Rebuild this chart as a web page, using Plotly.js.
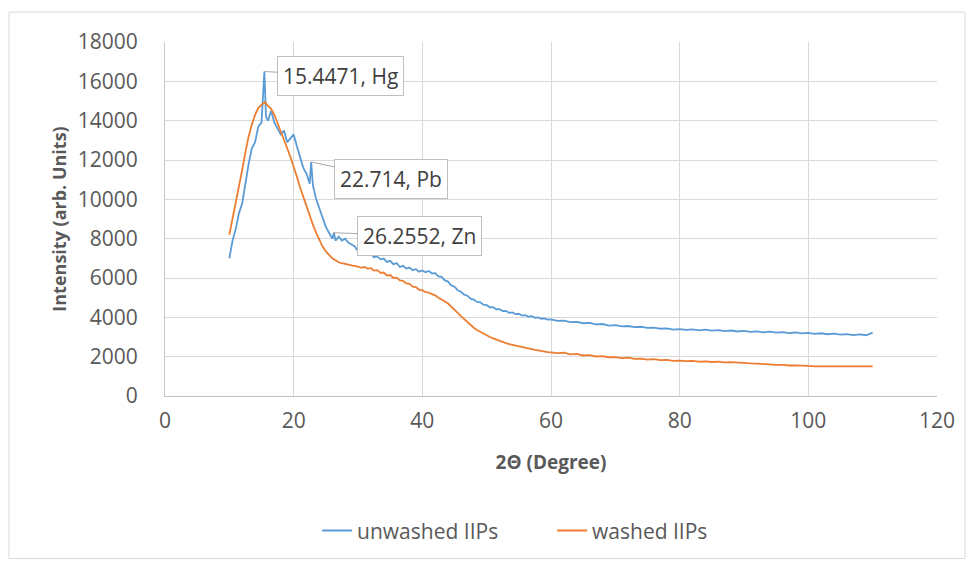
<!DOCTYPE html>
<html>
<head>
<meta charset="utf-8">
<script src="https://cdn.plot.ly/plotly-3.0.1.min.js"></script>
<style>html,body{margin:0;padding:0;background:#fff;}#chart{width:973px;height:562px;}</style>
</head>
<body>
<div id="chart"></div>
<script>
// ---- Data ----
var seriesNames = ['unwashed IIPs', 'washed IIPs'];

var xUnwashed = [10,10.5,11,11.5,12,12.5,13,13.5,14,14.5,15,15.4471,15.7,16,16.5,17,17.5,18,18.5,19,19.5,20,20.5,21,21.5,22,22.5,22.714,23,23.5,24,24.5,25,25.5,26,26.2552,26.5,27,27.5,28,28.5,29,29.5,30,
30.5,31,31.5,32,32.5,33,33.5,34,34.5,35,35.5,36,36.5,37,37.5,38,38.5,39,39.5,40,40.5,41,41.5,42,42.5,43,43.5,44,44.5,45,45.5,46,46.5,47,47.5,48,48.5,49,49.5,50,50.5,51,51.5,52,52.5,53,53.5,54,54.5,55,55.5,56,56.5,57,57.5,58,58.5,59,59.5,60,
61,62,63,64,65,66,67,68,69,70,71,72,73,74,75,76,77,78,79,80,81,82,83,84,85,86,87,88,89,90,91,92,93,94,95,96,97,98,99,100,101,102,103,104,105,106,107,108,109,110];

var yUnwashed = [7000,7900,8500,9300,9800,10900,11800,12600,12900,13700,13900,16500,14200,14000,14500,13900,13600,13300,13500,12900,13100,13300,12700,12100,11600,11300,10800,11900,10700,10000,9500,9100,8600,8300,8000,8300,7900,8100,7900,8000,7800,7700,7600,7350,
7250,7320,7180,7220,7060,7100,6950,6990,6820,6870,
6700,6760,6560,6620,6480,6530,6400,6450,6320,6380,
6290,6360,6230,6250,6080,6060,5880,5820,5620,5560,
5380,5300,5150,5100,4950,4900,4780,4760,4640,4620,
4510,4520,4410,4420,4320,4330,4230,4250,4160,4180,
4090,4110,4030,4060,3980,4000,3930,3950,3880,3900,
3820,3830,3760,3770,3700,3720,3640,3660,3580,3600,
3540,3560,3500,3520,3460,3480,3420,3440,3380,3400,
3360,3390,3340,3370,3320,3350,3300,3330,3280,3310,
3260,3290,3240,3270,3220,3250,3200,3230,3180,3210,
3160,3190,3140,3170,3120,3150,3100,3130,3090,3220];

var xWashed = [10,10.5,11,11.5,12,12.5,13,13.5,14,14.5,15,15.5,16,16.5,17,17.5,18,18.5,19,19.5,20,20.5,21,21.5,22,22.5,23,23.5,24,24.5,25,25.5,26,26.5,27,27.5,28,28.5,29,29.5,30,
30.5,31,31.5,32,32.5,33,33.5,34,34.5,35,35.5,36,36.5,37,37.5,38,38.5,39,39.5,40,40.5,41,41.5,42,42.5,43,43.5,44,44.5,45,45.5,46,46.5,47,47.5,48,48.5,49,49.5,50,50.5,51,51.5,52,52.5,53,53.5,54,54.5,55,55.5,56,56.5,57,57.5,58,58.5,59,59.5,60,
61,62,63,64,65,66,67,68,69,70,71,72,73,74,75,76,77,78,79,80,81,82,83,84,85,86,87,88,89,90,91,92,93,94,95,96,97,98,99,100,101,102,103,104,105,106,107,108,109,110];

var yWashed = [8200,9000,9800,10700,11500,12400,13200,13800,14300,14650,14800,14950,14750,14600,14300,13900,13500,13050,12600,12150,11700,11150,10600,10100,9600,9150,8700,8300,7950,7600,7350,7150,7000,6900,6800,6750,6700,6680,6640,6620,6580,
6520,6560,6480,6500,6380,6400,6260,6280,6130,6150,
6000,6020,5880,5860,5720,5700,5560,5540,5400,5380,
5280,5260,5180,5120,5000,4920,4800,4700,4560,4400,
4230,4060,3900,3740,3600,3470,3360,3260,3170,3090,
3000,2930,2860,2800,2740,2690,2640,2600,2550,2520,
2470,2450,2400,2380,2340,2320,2280,2270,2230,2220,
2180,2200,2120,2140,2060,2080,2010,2030,1970,1980,
1930,1950,1890,1900,1850,1870,1820,1840,1790,1800,
1770,1790,1750,1760,1730,1750,1710,1720,1690,1680,
1660,1650,1620,1610,1580,1580,1550,1560,1530,1530,
1510,1510,1500,1490,1490,1500,1500,1490,1500,1510];

var peakLabels = ['15.4471, Hg', '22.714, Pb', '26.2552, Zn'];
var peakX = [15.4471, 22.714, 26.2552];
var peakY = [16500, 11900, 8300];

var xTitle = '2Θ (Degree)';
var yTitle = 'Intensity (arb. Units)';

// ---- Chart ----
var traces = [
  {x: xUnwashed, y: yUnwashed, name: seriesNames[0], type: 'scatter', mode: 'lines',
   line: {color: '#5B9BD5', width: 1.8}},
  {x: xWashed, y: yWashed, name: seriesNames[1], type: 'scatter', mode: 'lines',
   line: {color: '#ED7D31', width: 1.8}}
];

var labelOffsets = [[76, 4], [80, 17], [86, 3]];
var annotations = peakLabels.map(function (t, i) {
  return {x: peakX[i], y: peakY[i], xref: 'x', yref: 'y', text: t,
    showarrow: true, arrowhead: 0, arrowwidth: 1, arrowcolor: '#a6a6a6',
    ax: labelOffsets[i][0], ay: labelOffsets[i][1],
    bordercolor: '#bfbfbf', borderwidth: 1, borderpad: 5, bgcolor: '#ffffff',
    font: {family: 'Open Sans', size: 21, color: '#404040'}};
});

var layout = {
  width: 973, height: 562,
  margin: {l: 165, r: 36, t: 42, b: 165},
  paper_bgcolor: '#ffffff', plot_bgcolor: '#ffffff',
  font: {family: 'Open Sans', color: '#595959'},
  showlegend: true,
  xaxis: {range: [0, 120], tick0: 0, dtick: 20, tickformat: 'd',
    showgrid: true, gridcolor: '#d9d9d9', gridwidth: 1, zeroline: false,
    showline: true, linecolor: '#bfbfbf', linewidth: 1, ticks: '',
    tickfont: {family: 'Open Sans', size: 21, color: '#595959'},
    ticklabelstandoff: 6,
    title: {text: '<b>' + xTitle + '</b>', font: {family: 'Open Sans', size: 19, color: '#595959'}, standoff: 22}},
  yaxis: {range: [0, 18000], tick0: 0, dtick: 2000, tickformat: 'd',
    showgrid: true, gridcolor: '#d9d9d9', gridwidth: 1, zeroline: false,
    showline: true, linecolor: '#c8c8c8', linewidth: 1, ticks: '',
    tickfont: {family: 'Open Sans', size: 21, color: '#595959'},
    ticklabelstandoff: 22,
    title: {text: '<b>' + yTitle + '</b>', font: {family: 'Open Sans', size: 18, color: '#595959'}, standoff: 6}},
  legend: {orientation: 'h', x: 0.197, xanchor: 'left', y: -0.377, yanchor: 'middle',
    entrywidth: 190, entrywidthmode: 'pixels',
    font: {family: 'Open Sans', size: 21, color: '#595959'}, bgcolor: 'rgba(0,0,0,0)'},
  annotations: annotations,
  shapes: [{type: 'rect', xref: 'paper', yref: 'paper', x0: -0.2021, x1: 1.0363, y0: -0.459, y1: 1.0845,
    line: {color: '#d9d9d9', width: 1}, fillcolor: 'rgba(0,0,0,0)', layer: 'below'}]
};

Plotly.newPlot('chart', traces, layout, {staticPlot: true, displayModeBar: false});
</script>
</body>
</html>
